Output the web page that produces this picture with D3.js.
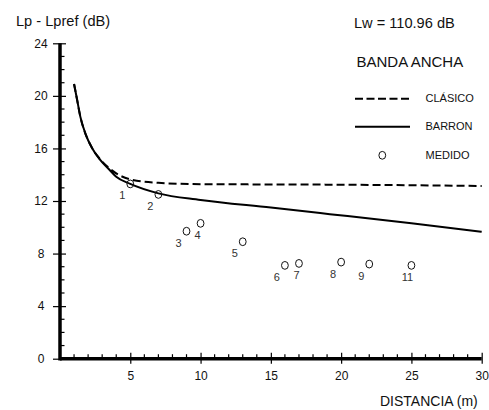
<!DOCTYPE html>
<html><head><meta charset="utf-8">
<script src="https://cdn.jsdelivr.net/npm/d3@7/dist/d3.min.js"></script>
<style>
body{margin:0;background:#fff;}
svg text{font-family:"Liberation Sans",Arial,sans-serif;fill:#111;}
</style></head>
<body><svg id="chart" width="489" height="410"></svg>
<script>
// ---- data ----
const barronX = [1.0, 1.2, 1.45, 1.8, 2.3, 2.8, 3.5, 4, 5, 7, 10, 15, 19.2, 25, 30];
const barronY = [20.9, 19.8, 18.4, 17.15, 16.0, 15.2, 14.4, 13.85, 13.3, 12.58, 12.08, 11.5, 11.0, 10.3, 9.66];
const clasicoX = [1.0, 1.2, 1.45, 1.8, 2.3, 2.8, 3.5, 4, 5, 7, 10, 15, 20, 25, 30];
const clasicoY = [20.9, 19.8, 18.4, 17.15, 16.0, 15.25, 14.5, 14.1, 13.65, 13.38, 13.28, 13.26, 13.24, 13.2, 13.14];
const medidoX = [5, 7, 9, 10, 13, 16, 17, 20, 22, 25];
const medidoY = [13.3, 12.5, 9.7, 10.3, 8.9, 7.1, 7.25, 7.35, 7.2, 7.1];
const medidoLabels = ["1", "2", "3", "4", "5", "6", "7", "8", "9", "11"];
const xTicks = [5, 10, 15, 20, 25, 30];
const yTicks = [0, 4, 8, 12, 16, 20, 24];
const legendNames = ["CLÁSICO", "BARRON", "MEDIDO"];

// ---- style ----
const labelDx = {"4": -3, "7": -2.5, "11": -4};

const svg = d3.select("#chart");
const x = d3.scaleLinear().domain([0, 30]).range([60, 481.7]);
const y = d3.scaleLinear().domain([0, 24]).range([358.7, 43.3]);

// minor ticks
const g = svg.append("g");
g.selectAll(".xm").data(d3.range(1, 30).filter(v => v % 5 !== 0)).enter().append("line")
  .attr("x1", d => x(d)).attr("x2", d => x(d)).attr("y1", y(0)).attr("y2", y(0) - 4.5)
  .attr("stroke", "#000").attr("stroke-width", 1.2);
g.selectAll(".ym").data(d3.range(1, 24).filter(v => v % 4 !== 0)).enter().append("line")
  .attr("y1", d => y(d)).attr("y2", d => y(d)).attr("x1", x(0)).attr("x2", x(0) + 4.5)
  .attr("stroke", "#000").attr("stroke-width", 1.2);

// major ticks via axes
const xAxis = svg.append("g").attr("transform", `translate(0,${y(0)})`)
  .call(d3.axisBottom(x).tickValues(xTicks).tickSizeInner(5).tickSizeOuter(0).tickPadding(8));
xAxis.selectAll(".tick line").attr("y1", -6).attr("y2", 5).attr("stroke-width", 1.2);
xAxis.select(".domain").attr("d", `M${x(0)},0H${x(30)}`).attr("stroke-width", 3.5);
xAxis.selectAll("text").attr("font-size", 12).attr("font-family", "Liberation Sans, Arial, sans-serif").attr("fill", "#111");

const yAxis = svg.append("g").attr("transform", `translate(${x(0)},0)`)
  .call(d3.axisLeft(y).tickValues(yTicks).tickSizeInner(7).tickSizeOuter(0).tickPadding(0));
yAxis.selectAll(".tick line").attr("x1", -7).attr("x2", 6).attr("stroke-width", 1.2);
yAxis.select(".domain").attr("d", `M0,${y(0) + 1.8}V${y(24)}`).attr("stroke-width", 3.5);
yAxis.selectAll("text").attr("font-size", 12).attr("text-anchor", "middle").attr("x", -19)
  .attr("font-family", "Liberation Sans, Arial, sans-serif").attr("fill", "#111");

// curves
const line = d3.line().x(d => x(d[0])).y(d => y(d[1])).curve(d3.curveMonotoneX);
svg.append("path").datum(clasicoX.map((v, i) => [v, clasicoY[i]]))
  .attr("d", line).attr("fill", "none").attr("stroke", "#000").attr("stroke-width", 2)
  .attr("stroke-dasharray", "8,4");
svg.append("path").datum(barronX.map((v, i) => [v, barronY[i]]))
  .attr("d", line).attr("fill", "none").attr("stroke", "#000").attr("stroke-width", 2);

// measured points
const pts = medidoX.map((v, i) => ({x: v, y: medidoY[i], label: medidoLabels[i]}));
svg.selectAll(".pt").data(pts).enter().append("ellipse")
  .attr("cx", d => x(d.x)).attr("cy", d => y(d.y)).attr("rx", 3.4).attr("ry", 3.9)
  .attr("fill", "none").attr("stroke", "#111").attr("stroke-width", 1);
svg.selectAll(".pl").data(pts).enter().append("text")
  .attr("x", d => x(d.x) + (labelDx[d.label] !== undefined ? labelDx[d.label] : -8))
  .attr("y", d => y(d.y) + 15.5).attr("text-anchor", "middle").attr("font-size", 11)
  .style("fill", "#333").text(d => d.label);

// titles
svg.append("text").attr("x", 16).attr("y", 26).attr("font-size", 14.6).text("Lp - Lpref (dB)");
svg.append("text").attr("x", 380).attr("y", 406).attr("font-size", 14).text("DISTANCIA (m)");
svg.append("text").attr("x", 354).attr("y", 28).attr("font-size", 14.6).text("Lw = 110.96 dB");
svg.append("text").attr("x", 356.5).attr("y", 66.5).attr("font-size", 15).text("BANDA ANCHA");

// legend
svg.append("line").attr("x1", 355).attr("x2", 410).attr("y1", 98.7).attr("y2", 98.7)
  .attr("stroke", "#000").attr("stroke-width", 2).attr("stroke-dasharray", "8,3.5");
svg.append("line").attr("x1", 355).attr("x2", 410).attr("y1", 126.7).attr("y2", 126.7)
  .attr("stroke", "#000").attr("stroke-width", 2);
svg.append("ellipse").attr("cx", 382.3).attr("cy", 155.3).attr("rx", 3.4).attr("ry", 3.9)
  .attr("fill", "none").attr("stroke", "#111").attr("stroke-width", 1);
const legY = [101.7, 130.3, 158.5];
legendNames.forEach((n, i) => {
  svg.append("text").attr("x", 425.5).attr("y", legY[i]).attr("font-size", 11).text(n);
});
</script></body></html>
